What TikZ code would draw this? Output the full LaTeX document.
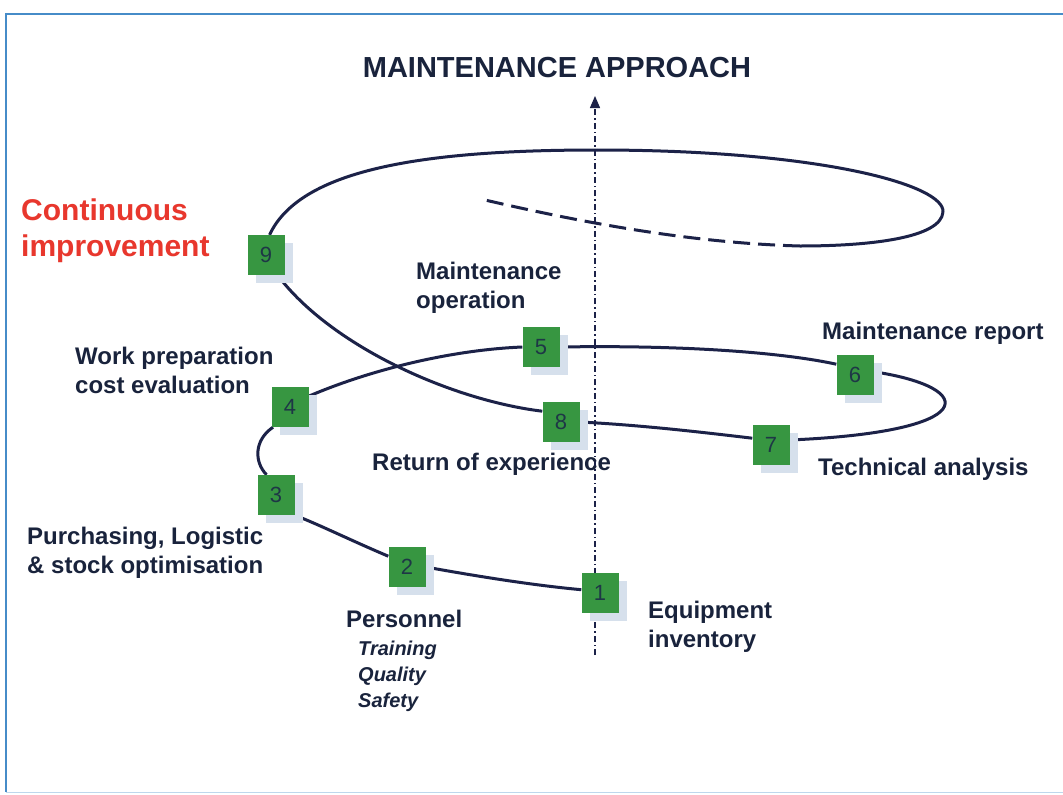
\documentclass[tikz,border=0pt]{standalone}
\usepackage{fontspec}
\setmainfont{Liberation Sans}
\usetikzlibrary{shadows,arrows.meta}
\definecolor{boxgreen}{RGB}{55,150,65}
\definecolor{shadowcol}{RGB}{214,224,236}
\definecolor{navy}{RGB}{28,34,72}
\definecolor{txtcol}{RGB}{25,35,60}
\definecolor{digitcol}{RGB}{30,55,70}
\definecolor{redtxt}{RGB}{232,55,45}
\definecolor{framecol}{RGB}{70,140,200}
\pgfdeclarelayer{bg}
\pgfsetlayers{bg,main}
\begin{document}
\begin{tikzpicture}[x=1pt,y=-1pt,
  numbox/.style={rectangle, fill=boxgreen, minimum width=37pt, minimum height=40pt, inner sep=0pt,
    text=digitcol, font=\fontsize{22}{24}\selectfont,
    drop shadow={shadow xshift=8pt, shadow yshift=-8pt, fill=shadowcol, opacity=1}},
  lbl/.style={anchor=west, inner sep=0pt, align=left, text=txtcol, font=\fontsize{24}{29}\selectfont\bfseries},
  sublbl/.style={anchor=west, inner sep=0pt, align=left, text=txtcol, font=\fontsize{20}{26}\selectfont\bfseries\itshape},
  spiral/.style={draw=navy, line width=3pt},
  axisline/.style={draw=navy, line width=1.3pt, dash pattern=on 6pt off 3pt on 1.5pt off 3pt}
]
\useasboundingbox (0,0) rectangle (1063,795);
% frame
\coordinate (fa) at (1063,14);
\coordinate (fb) at (6,14);
\coordinate (fc) at (6,792);
\coordinate (fd) at (1063,792);

% title
\node[inner sep=0pt, text=txtcol, font=\fontsize{29}{32}\selectfont\bfseries] (title) at (557,68) {MAINTENANCE APPROACH};

% boxes
\node[numbox] (b1) at (600,593) {1};
\node[numbox] (b2) at (407,567) {2};
\node[numbox] (b3) at (276,495) {3};
\node[numbox] (b4) at (290,407) {4};
\node[numbox] (b5) at (541,347) {5};
\node[numbox] (b6) at (855,375) {6};
\node[numbox] (b7) at (771,445) {7};
\node[numbox] (b8) at (561,422) {8};
\node[numbox] (b9) at (266,255) {9};

% free coordinates
\coordinate (top) at (597,150);
\coordinate (rend) at (943,212);
\coordinate (dj) at (800,246);
\coordinate (dend) at (485,200);
\coordinate (axb) at (595,655);
\coordinate (axt) at (595,96);

\begin{pgfonlayer}{bg}
  \fill[white] (0,0) rectangle (1063,795);
  \draw[framecol, line width=1.6pt] (fa) -- (fb) -- (fc);
  \draw[framecol!35, line width=1pt] (fc) -- (fd);
  \draw[axisline, -{Triangle[length=12pt,width=10pt]}] (axb) -- (axt);
  \draw[spiral] (b1.170) .. controls (530,585) and (470,575) .. (b2.east);
  \draw[spiral] (b2.150) .. controls (350,540) and (320,525) .. (b3.south east);
  \draw[spiral] (b3.115) .. controls (254,462) and (254,440) .. (b4.230);
  \draw[spiral] (b4.30) .. controls (370,370) and (450,350) .. (b5.west);
  \draw[spiral] (b5.east) .. controls (680,345) and (780,352) .. (b6.150);
  \draw[spiral] (b6.10) .. controls (980,388) and (980,432) .. (b7.15);
  \draw[spiral] (b7.160) .. controls (700,432) and (640,425) .. (b8.east);
  \draw[spiral] (b8.150) .. controls (450,400) and (330,345) .. (b9.-60);
  \draw[spiral] (b9.80) .. controls (300,170) and (420,150) .. (top);
  \draw[spiral] (top) .. controls (820,150) and (945,185) .. (rend);
  \draw[spiral] (rend) .. controls (941,238) and (870,246) .. (dj);
  \draw[spiral, dash pattern=on 17pt off 8pt] (dj) .. controls (690,243) and (580,222) .. (dend);
\end{pgfonlayer}

% labels
\node[anchor=west, inner sep=0pt, align=left, text=redtxt, font=\fontsize{30}{36}\selectfont\bfseries] (ci) at (21,231) {Continuous\\improvement};
\node[lbl] (l5) at (416,288) {Maintenance\\operation};
\node[lbl] (l4) at (75,370) {Work preparation\\cost evaluation};
\node[lbl] (l6) at (822,333) {Maintenance report};
\node[lbl] (l8) at (372,464) {Return of experience};
\node[lbl] (l7) at (818,469) {Technical analysis};
\node[lbl] (l3) at (27,553) {Purchasing, Logistic\\\& stock optimisation};
\node[lbl] (l2) at (346,619) {Personnel};
\node[sublbl] (l2b) at (358,676) {Training\\Quality\\Safety};
\node[lbl] (l1) at (648,627) {Equipment\\inventory};
\end{tikzpicture}
\end{document}
